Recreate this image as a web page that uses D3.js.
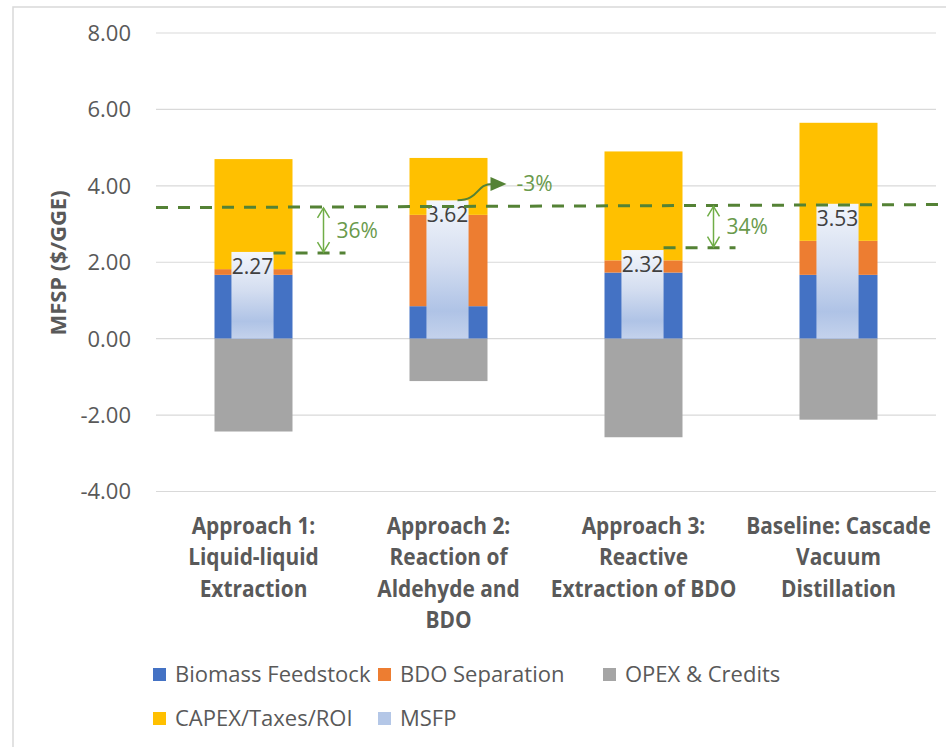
<!doctype html>
<html>
<head>
<meta charset="utf-8">
<style>
  body { margin: 0; background: #fff; }
  svg { display: block; }
  .tick-label { font-family: "Open Sans", sans-serif; font-size: 22px; fill: #595959; }
  .cat-label { font-family: "Open Sans", sans-serif; font-weight: bold; font-size: 24px; fill: #595959; }
  .legend-label { font-family: "Open Sans", sans-serif; font-size: 22px; fill: #595959; }
  .val-label { font-family: "Open Sans", sans-serif; font-size: 21px; fill: #404040; }
  .note { font-family: "Open Sans", sans-serif; font-size: 21px; fill: #6a9a4c; }
</style>
<script src="https://d3js.org/d3.v7.min.js"></script>
</head>
<body>
<svg id="chart" width="946" height="747"></svg>
<script>
// data
var categories = [
  ["Approach 1:", "Liquid-liquid", "Extraction"],
  ["Approach 2:", "Reaction of", "Aldehyde and", "BDO"],
  ["Approach 3:", "Reactive", "Extraction of BDO"],
  ["Baseline: Cascade", "Vacuum", "Distillation"]
];
var biomass = [1.67, 0.85, 1.73, 1.67];
var bdoSep  = [0.15, 2.39, 0.32, 0.89];
var capex   = [2.88, 1.49, 2.85, 3.09];
var opex    = [-2.43, -1.11, -2.58, -2.12];
var msfp    = [2.27, 3.62, 2.32, 3.53];
var yTicks  = [-4, -2, 0, 2, 4, 6, 8];

// annotations
var baseLine = [3.43, 3.51];          // dashed baseline level, left end / right end
var savings  = [{i: 0, level: 2.24, text: "36%"}, {i: 2, level: 2.38, text: "34%"}];
var increase = {i: 1, top: 4.05, text: "-3%"};

var series = [
  {name: "Biomass Feedstock", color: "#4472c4"},
  {name: "BDO Separation", color: "#ed7d31"},
  {name: "OPEX & Credits", color: "#a5a5a5"},
  {name: "CAPEX/Taxes/ROI", color: "#ffc000"},
  {name: "MSFP", color: "url(#msfpGrad)"}
];

var svg = d3.select("#chart");
var left = 156, right = 936;

var defs = svg.append("defs");
var grad = defs.append("linearGradient").attr("id", "msfpGrad")
  .attr("x1", 0).attr("y1", 0).attr("x2", 0).attr("y2", 1);
grad.append("stop").attr("offset", "0%").attr("stop-color", "#f3f6fb");
grad.append("stop").attr("offset", "45%").attr("stop-color", "#d3ddf0");
grad.append("stop").attr("offset", "80%").attr("stop-color", "#afc3e6");
grad.append("stop").attr("offset", "100%").attr("stop-color", "#c4d2ec");

// chart frame
svg.append("path")
  .attr("d", "M13,747V7H946")
  .attr("fill", "none").attr("stroke", "#d9d9d9").attr("stroke-width", 1.5);

var x = d3.scaleBand().domain(d3.range(categories.length)).range([left, right])
  .paddingInner(0.6).paddingOuter(0.3);
var y = d3.scaleLinear().domain([-4, 8]).range([491.5, 33]);

// gridlines
svg.append("g").selectAll("line").data(yTicks).enter().append("line")
  .attr("x1", left).attr("x2", right)
  .attr("y1", function(d) { return y(d); }).attr("y2", function(d) { return y(d); })
  .attr("stroke", "#d9d9d9").attr("stroke-width", 1.2);

svg.append("g").selectAll("text").data(yTicks).enter().append("text")
  .attr("class", "tick-label")
  .attr("x", 131).attr("y", function(d) { return y(d); })
  .attr("dy", "0.36em").attr("text-anchor", "end")
  .text(function(d) { return d.toFixed(2); });

svg.append("text")
  .attr("transform", "translate(58,263) rotate(-90)")
  .attr("text-anchor", "middle").attr("dy", "0.35em")
  .style("font-family", "'Open Sans', sans-serif").style("font-weight", "bold")
  .style("font-size", "22px").style("fill", "#595959")
  .text("MFSP ($/GGE)");

// stacked bars
var rows = categories.map(function(c, i) {
  var b0 = 0, b1 = biomass[i], o1 = b1 + bdoSep[i], c1 = o1 + capex[i];
  return [
    {i: i, y0: b0, y1: b1, color: series[0].color},
    {i: i, y0: b1, y1: o1, color: series[1].color},
    {i: i, y0: o1, y1: c1, color: series[3].color},
    {i: i, y0: opex[i], y1: 0, color: series[2].color}
  ];
});
var segs = [].concat.apply([], rows);

svg.append("g").selectAll("rect").data(segs).enter().append("rect")
  .attr("x", function(d) { return x(d.i); })
  .attr("width", x.bandwidth())
  .attr("y", function(d) { return y(Math.max(d.y0, d.y1)); })
  .attr("height", function(d) { return Math.abs(y(d.y0) - y(d.y1)); })
  .attr("fill", function(d) { return d.color; });

// MSFP inner bars
var innerW = x.bandwidth() * 0.54;
function innerX(i) { return x(i) + (x.bandwidth() - innerW) / 2 - 1; }

svg.append("g").selectAll("rect").data(msfp).enter().append("rect")
  .attr("x", function(d, i) { return innerX(i); })
  .attr("width", innerW)
  .attr("y", function(d) { return y(d); })
  .attr("height", function(d) { return y(0) - y(d); })
  .attr("fill", "url(#msfpGrad)");

svg.append("g").selectAll("text").data(msfp).enter().append("text")
  .attr("class", "val-label")
  .attr("x", function(d, i) { return innerX(i) + innerW / 2; })
  .attr("y", function(d) { return y(d) + 22; })
  .attr("text-anchor", "middle")
  .text(function(d) { return d.toFixed(2); });

// dashed baseline
var green = "#548235";
var baseY = d3.scaleLinear().domain([left, right]).range([y(baseLine[0]), y(baseLine[1])]);
svg.append("line")
  .attr("x1", left).attr("x2", 944)
  .attr("y1", baseY(left)).attr("y2", baseY(944))
  .attr("stroke", green).attr("stroke-width", 3).attr("stroke-dasharray", "12,10");

// savings annotations
savings.forEach(function(s) {
  var cx = x(s.i) + x.bandwidth() / 2;
  var ax = cx + 70;
  var y1 = baseY(ax), y2 = y(s.level);
  svg.append("line")
    .attr("x1", innerX(s.i) + innerW).attr("x2", ax + 22)
    .attr("y1", y2).attr("y2", y2)
    .attr("stroke", green).attr("stroke-width", 3).attr("stroke-dasharray", "12,10");
  var a = svg.append("g").attr("stroke", "#70ad47").attr("stroke-width", 1.5).attr("fill", "none");
  a.append("line").attr("x1", ax).attr("x2", ax).attr("y1", y1 + 1).attr("y2", y2 - 1);
  a.append("path").attr("d", "M" + (ax - 6) + "," + (y1 + 11) + "L" + ax + "," + (y1 + 1) + "L" + (ax + 6) + "," + (y1 + 11));
  a.append("path").attr("d", "M" + (ax - 6) + "," + (y2 - 11) + "L" + ax + "," + (y2 - 1) + "L" + (ax + 6) + "," + (y2 - 11));
  svg.append("text").attr("class", "note")
    .attr("x", ax + 13).attr("y", (y1 + y2) / 2).attr("dy", "0.36em")
    .text(s.text);
});

// -3% arrow
(function() {
  var i = increase.i;
  var sx = innerX(i) + innerW / 2 + 10, sy = y(msfp[i]);
  var tx = x(i) + x.bandwidth() + 19, ty = y(increase.top);
  svg.append("path")
    .attr("d", "M" + sx + "," + sy + "C" + (sx + 22) + "," + sy + " " + (sx + 18) + "," + ty + " " + (tx - 14) + "," + ty)
    .attr("fill", "none").attr("stroke", green).attr("stroke-width", 2);
  svg.append("path")
    .attr("d", "M" + tx + "," + ty + "L" + (tx - 16) + "," + (ty - 7) + "L" + (tx - 16) + "," + (ty + 7) + "Z")
    .attr("fill", green);
  svg.append("text").attr("class", "note")
    .attr("x", tx + 10).attr("y", ty).attr("dy", "0.36em")
    .text(increase.text);
})();

// category labels (condensed to match the narrow bold face)
var cat = svg.append("g").selectAll("text").data(categories).enter().append("text")
  .attr("class", "cat-label")
  .attr("text-anchor", "middle")
  .attr("transform", function(d, i) { return "translate(" + (x(i) + x.bandwidth() / 2) + ",534) scale(0.87,1)"; });
cat.selectAll("tspan").data(function(d) { return d; }).enter().append("tspan")
  .attr("x", 0).attr("y", function(d, j) { return j * 31.3; })
  .text(function(d) { return d; });

// legend
var legendOrder = [0, 1, 2, 3, 4];
var legend = svg.append("g").selectAll("g").data(legendOrder).enter().append("g")
  .attr("transform", function(d, k) {
    return "translate(" + (153 + (k % 3) * 225) + "," + (682 + Math.floor(k / 3) * 44) + ")";
  });
legend.append("rect")
  .attr("x", 0).attr("y", -14).attr("width", 13).attr("height", 13)
  .attr("fill", function(d) { return d === 4 ? "#b4c7e7" : series[d].color; });
legend.append("text")
  .attr("class", "legend-label")
  .attr("x", 22).attr("y", 0)
  .text(function(d) { return series[d].name; });
</script>
</body>
</html>
